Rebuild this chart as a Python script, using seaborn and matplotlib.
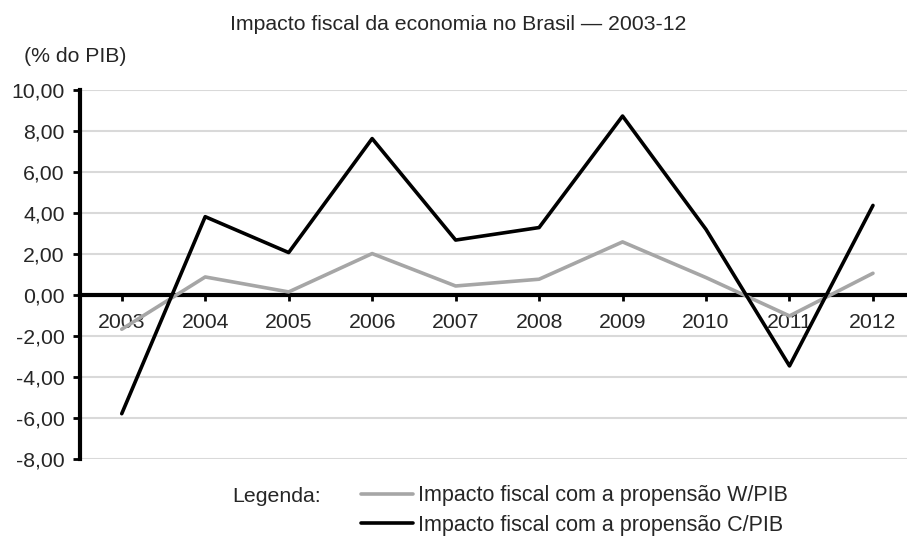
import pandas as pd
import matplotlib
matplotlib.use("Agg")
import matplotlib.pyplot as plt
import seaborn as sns
from matplotlib.lines import Line2D

# Data
anos = ["2003", "2004", "2005", "2006", "2007", "2008", "2009", "2010", "2011", "2012"]
impacto_w = [-1.67, 0.88, 0.15, 2.02, 0.44, 0.77, 2.59, 0.85, -1.02, 1.06]
impacto_c = [-5.79, 3.82, 2.07, 7.63, 2.68, 3.29, 8.73, 3.20, -3.46, 4.37]
serie_w = "Impacto fiscal com a propensão W/PIB"
serie_c = "Impacto fiscal com a propensão C/PIB"
y_ticks = [-8, -6, -4, -2, 0, 2, 4, 6, 8, 10]

sns.set_style("white")
plt.rcParams['font.family'] = ['Liberation Sans', 'DejaVu Sans']
fs = 15.3

Data = pd.DataFrame({
    "ano": anos * 2,
    "valor": impacto_w + impacto_c,
    "serie": [serie_w] * len(anos) + [serie_c] * len(anos),
})
cores = {serie_w: "#a6a6a6", serie_c: "#000000"}

W, H = 907, 536
fig = plt.figure(figsize=(W / 100, H / 100), dpi=100)
ax = fig.add_axes([80 / W, 1 - 459 / H, (914.7 - 80) / W, (459 - 90) / H])

sns.lineplot(data=Data, x="ano", y="valor", hue="serie", palette=cores,
             linewidth=2.6, ax=ax, legend=False, sort=False)

ax.set_xlim(-0.5, len(anos) - 0.5)
ax.set_ylim(-8, 10)
ax.set_yticks(y_ticks)
ax.set_yticklabels([f"{v:.2f}".replace(".", ",") for v in y_ticks])
ax.set_xticks(range(len(anos)))
ax.set_xticklabels(anos)
ax.set_xlabel("")
ax.set_ylabel("")

# gridlines
for v in y_ticks:
    if v != 0:
        ax.axhline(v, color="#d9d9d9", linewidth=1.5, zorder=0)

for s in ["top", "right"]:
    ax.spines[s].set_visible(False)
ax.spines["left"].set_linewidth(3)
ax.spines["left"].set_color("black")
ax.spines["bottom"].set_position(("data", 0))
ax.spines["bottom"].set_linewidth(3)
ax.spines["bottom"].set_color("black")
ax.spines["bottom"].set_zorder(1)
ax.tick_params(axis="y", direction="out", length=5, width=2, color="black",
               pad=6, labelsize=fs, left=True)
ax.tick_params(axis="x", direction="out", length=4, width=2, color="black",
               pad=9, labelsize=fs, bottom=True)

fig.text(458 / W, 1 - 25 / H, "Impacto fiscal da economia no Brasil — 2003-12",
         ha="center", va="center", fontsize=fs)
fig.text(24 / W, 1 - 57 / H, "(% do PIB)", ha="left", va="center", fontsize=fs)

fig.text(321 / W, 1 - 497 / H, "Legenda:", ha="right", va="center", fontsize=fs)
handles = [Line2D([], [], color=cores[serie_w], linewidth=2.6),
           Line2D([], [], color=cores[serie_c], linewidth=2.6)]
fig.legend(handles, [serie_w, serie_c], loc="center left",
           bbox_to_anchor=(361 / W, 1 - 510.5 / H), frameon=False,
           fontsize=fs + 0.2, handlelength=2.4, handletextpad=0.25,
           labelspacing=0.4, borderaxespad=0, borderpad=0)

fig.savefig("out.png", dpi=100)
